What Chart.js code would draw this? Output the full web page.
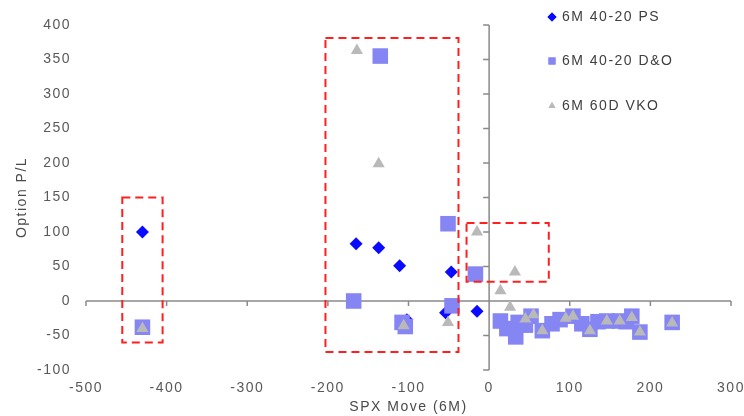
<!DOCTYPE html>
<html>
<head>
<meta charset="utf-8">
<script src="https://cdn.jsdelivr.net/npm/chart.js@4.4.1/dist/chart.umd.min.js"></script>
<style>
html,body{margin:0;padding:0;background:#fff;}
#wrap{width:744px;height:416px;position:relative;}
</style>
</head>
<body>
<div id="wrap"><canvas id="c" width="744" height="416"></canvas></div>
<script>
// ---- data ----
const seriesNames = ['6M 40-20 PS', '6M 40-20 D&O', '6M 60D VKO'];

const psX = [-430, -165, -137, -111, -47, -54, -102, -15];
const psY = [100, 83, 77, 51, 42, -17, -27, -15];

const doX = [-430, -135, -168, -51, -46, -108, -104, -17, 14, 22, 36, 33, 45, 52, 66, 78, 88, 104, 115, 125, 135, 146, 162, 170, 177, 187, 227];
const doY = [-38, 355, 0, 112, -7, -31, -37, 39, -29, -40, -31, -52, -35, -22, -43, -33, -27, -22, -33, -41, -30, -29, -29, -30, -22, -45, -31];

const vkoX = [-430, -164, -137, -106, -51, -15, 32, 14, 26, 45, 66, 55, 95, 104, 125, 146, 162, 177, 187, 227];
const vkoY = [-40, 363, 199, -36, -31, 100, 42, 15, -9, -26, -43, -20, -25, -22, -43, -29, -29, -24, -45, -32];

const xTicks = [-500, -400, -300, -200, -100, 0, 100, 200, 300];
const yTicks = [-100, -50, 0, 50, 100, 150, 200, 250, 300, 350, 400];

const xTitle = 'SPX Move (6M)';
const yTitle = 'Option P/L';

// highlighted regions (data units)
const boxXMin = [-455, -203, -28];
const boxXMax = [-405, -38, 74];
const boxYMin = [-60, -74, 28];
const boxYMax = [150, 381, 113];

// ---- helpers ----
const toPts = (xs, ys) => xs.map((v, i) => ({x: v, y: ys[i]}));
const FONT = 'Liberation Sans, Arial, sans-serif';
const SPACING = '1.5px';

const overlay = {
  id: 'overlay',
  beforeInit(chart){ chart.ctx.letterSpacing = SPACING; },
  beforeLayout(chart){ chart.ctx.letterSpacing = SPACING; },
  beforeDraw(chart){ chart.ctx.letterSpacing = SPACING; },
  beforeDatasetsDraw(chart){
    const {ctx, scales:{x, y}} = chart;
    ctx.save();
    ctx.strokeStyle = '#8a8a8a';
    ctx.lineWidth = 1.5;
    const y0 = y.getPixelForValue(0);
    const x0 = x.getPixelForValue(0);
    ctx.beginPath();
    ctx.moveTo(x.getPixelForValue(xTicks[0]), y0);
    ctx.lineTo(x.getPixelForValue(xTicks[xTicks.length-1]), y0);
    xTicks.forEach(v => { const p = x.getPixelForValue(v); ctx.moveTo(p, y0); ctx.lineTo(p, y0 + 5); });
    ctx.moveTo(x0, y.getPixelForValue(yTicks[0]));
    ctx.lineTo(x0, y.getPixelForValue(yTicks[yTicks.length-1]));
    yTicks.forEach(v => { const p = y.getPixelForValue(v); ctx.moveTo(x0 - 6, p); ctx.lineTo(x0, p); });
    ctx.stroke();
    ctx.restore();
  },
  afterDatasetsDraw(chart){
    const {ctx, scales:{x, y}} = chart;
    ctx.save();
    ctx.strokeStyle = '#ff1f1f';
    ctx.lineWidth = 2;
    ctx.setLineDash([8, 5]);
    boxXMin.forEach((v, i) => {
      const l = x.getPixelForValue(v), r = x.getPixelForValue(boxXMax[i]);
      const t = y.getPixelForValue(boxYMax[i]), b = y.getPixelForValue(boxYMin[i]);
      ctx.strokeRect(l, t, r - l, b - t);
    });
    ctx.restore();
  },
  afterDraw(chart){
    const ctx = chart.ctx;
    ctx.save();
    ctx.letterSpacing = SPACING;
    ctx.font = '14px ' + FONT;
    ctx.textBaseline = 'middle';
    ctx.textAlign = 'left';
    const rows = [17, 61, 106];
    const legendRadius = [4.5, 5, 4];
    seriesNames.forEach((name, i) => {
      const ds = chart.data.datasets[i];
      ctx.fillStyle = ds.backgroundColor;
      Chart.helpers.drawPoint(ctx, {pointStyle: ds.pointStyle, radius: legendRadius[i], rotation: 0, borderWidth: 0}, 552, rows[i]);
      ctx.fill();
      ctx.fillStyle = '#404040';
      ctx.fillText(name, 562, rows[i]);
    });
    ctx.restore();
  }
};

new Chart(document.getElementById('c'), {
  type: 'scatter',
  data: {
    datasets: [
      {label: seriesNames[0], data: toPts(psX, psY), pointStyle: 'rectRot', pointRadius: 6.5, backgroundColor: '#0a0aff', borderWidth: 0, order: 3},
      {label: seriesNames[1], data: toPts(doX, doY), pointStyle: 'rect', pointRadius: 11, backgroundColor: '#8585f3', borderWidth: 0, order: 2},
      {label: seriesNames[2], data: toPts(vkoX, vkoY), pointStyle: 'triangle', pointRadius: 7, backgroundColor: '#b9b9b9', borderWidth: 0, order: 1}
    ]
  },
  options: {
    responsive: false,
    animation: false,
    devicePixelRatio: 1,
    events: [],
    layout: {padding: {left: 0, right: 13, top: 25, bottom: 0}},
    plugins: {legend: {display: false}, tooltip: {enabled: false}},
    scales: {
      x: {
        type: 'linear', min: xTicks[0], max: xTicks[xTicks.length-1],
        afterBuildTicks: s => { s.ticks = xTicks.map(v => ({value: v})); },
        afterFit: s => { s.height = 46; s.paddingLeft = 0; s.paddingRight = 0; },
        grid: {display: false, drawTicks: false},
        border: {display: false},
        ticks: {padding: 10, color: '#595959', font: {family: FONT, size: 14}, maxRotation: 0, autoSkip: false},
        title: {display: true, text: xTitle, color: '#4a4a4a', font: {family: FONT, size: 14}, padding: {top: 1, bottom: 0}}
      },
      y: {
        type: 'linear', min: yTicks[0], max: yTicks[yTicks.length-1],
        afterBuildTicks: s => { s.ticks = yTicks.map(v => ({value: v})); },
        afterFit: s => { s.width = 86; s.paddingTop = 0; s.paddingBottom = 0; },
        grid: {display: false, drawTicks: false},
        border: {display: false},
        ticks: {padding: 15, color: '#595959', font: {family: FONT, size: 14}, autoSkip: false},
        title: {display: true, text: yTitle, color: '#4a4a4a', font: {family: FONT, size: 14}, padding: {top: 14, bottom: 0}}
      }
    }
  },
  plugins: [overlay]
});
</script>
</body>
</html>
